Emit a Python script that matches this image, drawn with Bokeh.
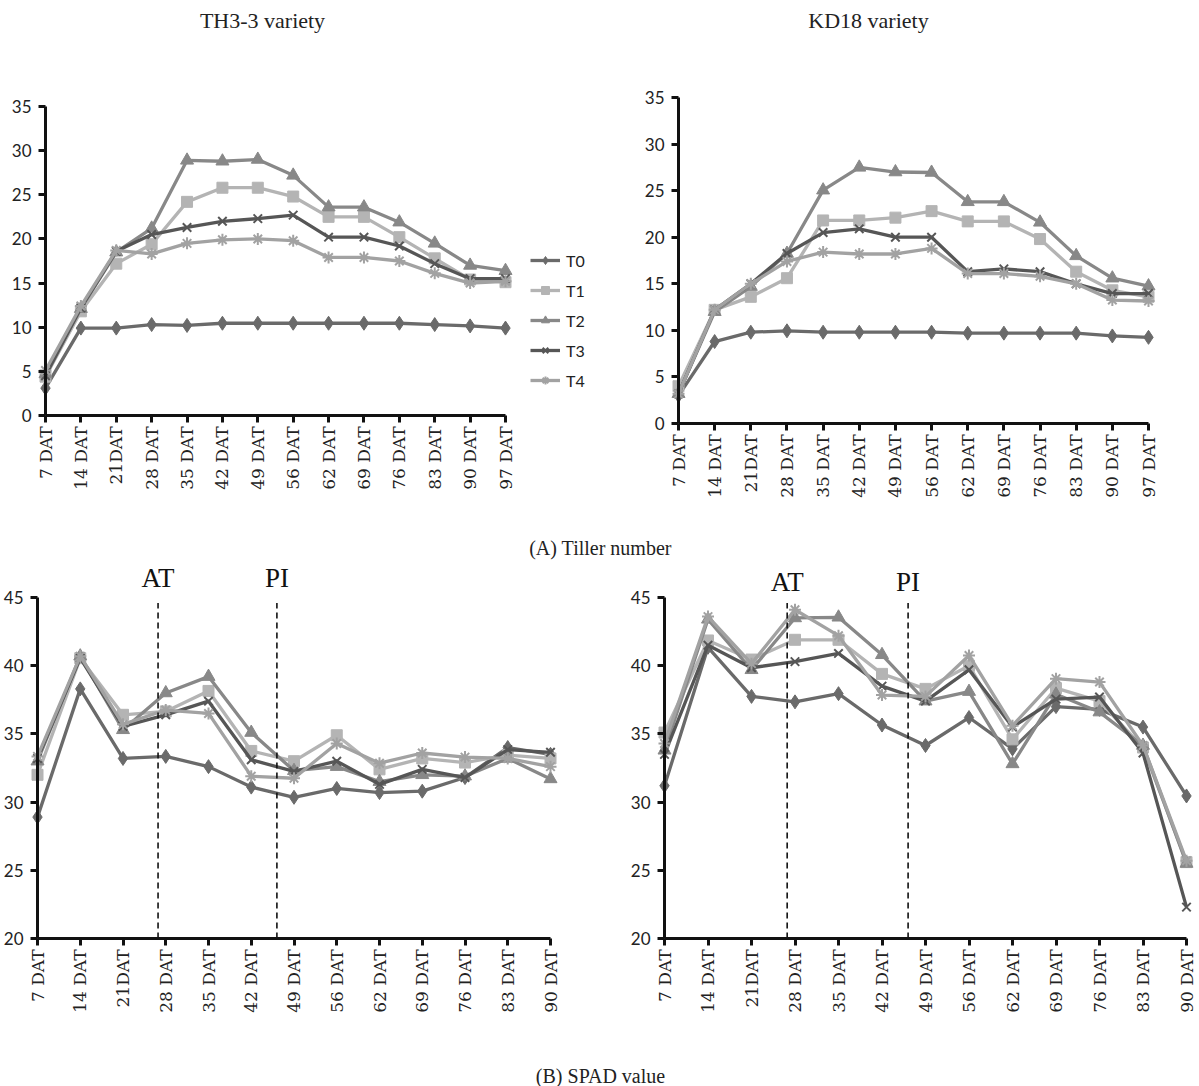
from bokeh.plotting import figure
from bokeh.models import Range1d, FixedTicker, Legend, LegendItem
from bokeh.layouts import column, row
from bokeh.embed import file_html
from bokeh.resources import INLINE
from bokeh.core.properties import value

# ---------------- data ----------------
cats_tiller = ["7 DAT", "14 DAT", "21DAT", "28 DAT", "35 DAT", "42 DAT", "49 DAT",
               "56 DAT", "62 DAT", "69 DAT", "76 DAT", "83 DAT", "90 DAT", "97 DAT"]
cats_spad = ["7 DAT", "14 DAT", "21DAT", "28 DAT", "35 DAT", "42 DAT", "49 DAT",
             "56 DAT", "62 DAT", "69 DAT", "76 DAT", "83 DAT", "90 DAT"]
series_names = ["T0", "T1", "T2", "T3", "T4"]

# (A) Tiller number, TH3-3
tl_T0 = [3.1, 9.9, 9.9, 10.3, 10.2, 10.45, 10.45, 10.45, 10.45, 10.45, 10.45, 10.3, 10.15, 9.9]
tl_T1 = [4.4, 11.8, 17.2, 19.4, 24.2, 25.8, 25.8, 24.8, 22.5, 22.5, 20.2, 17.8, 15.4, 15.1]
tl_T2 = [4.7, 12.1, 18.5, 21.2, 28.9, 28.8, 29.0, 27.2, 23.6, 23.6, 21.9, 19.5, 17.0, 16.4]
tl_T3 = [4.5, 12.2, 18.6, 20.5, 21.3, 22.0, 22.3, 22.7, 20.2, 20.2, 19.2, 17.2, 15.5, 15.5]
tl_T4 = [5.1, 12.4, 18.7, 18.3, 19.5, 19.9, 20.0, 19.8, 17.9, 17.9, 17.5, 16.1, 15.0, 15.2]

# (A) Tiller number, KD18
tr_T0 = [3.0, 8.8, 9.8, 9.95, 9.8, 9.8, 9.8, 9.8, 9.7, 9.7, 9.7, 9.7, 9.4, 9.25]
tr_T1 = [4.0, 12.2, 13.6, 15.6, 21.8, 21.8, 22.1, 22.8, 21.7, 21.7, 19.8, 16.3, 14.3, 13.6]
tr_T2 = [3.2, 12.0, 14.7, 18.25, 25.05, 27.5, 27.0, 26.95, 23.8, 23.8, 21.6, 18.0, 15.6, 14.75]
tr_T3 = [3.2, 12.2, 15.0, 18.25, 20.5, 20.9, 20.0, 20.0, 16.3, 16.6, 16.3, 15.0, 13.95, 13.95]
tr_T4 = [3.2, 12.2, 15.0, 17.4, 18.4, 18.2, 18.2, 18.8, 16.1, 16.1, 15.8, 15.0, 13.25, 13.15]

# (B) SPAD value, TH3-3
bl_T0 = [28.9, 38.3, 33.2, 33.35, 32.6, 31.1, 30.35, 31.0, 30.7, 30.8, 31.8, 34.0, 33.5]
bl_T1 = [32.0, 40.55, 36.4, 36.65, 38.15, 33.75, 33.0, 34.9, 32.4, 33.2, 32.9, 33.45, 33.2]
bl_T2 = [33.0, 40.7, 35.3, 38.0, 39.2, 35.1, 32.3, 32.6, 31.5, 32.0, 31.9, 33.2, 31.7]
bl_T3 = [33.2, 40.55, 35.55, 36.4, 37.4, 33.1, 32.25, 33.0, 31.3, 32.4, 31.8, 33.85, 33.65]
bl_T4 = [33.35, 40.7, 35.7, 36.75, 36.5, 31.9, 31.75, 34.3, 32.85, 33.6, 33.3, 33.2, 32.6]

# (B) SPAD value, KD18
br_T0 = [31.2, 41.35, 37.75, 37.35, 37.95, 35.65, 34.15, 36.2, 33.9, 37.0, 36.8, 35.5, 30.45]
br_T1 = [35.1, 41.85, 40.45, 41.9, 41.9, 39.4, 38.3, 40.0, 34.6, 38.35, 37.4, 34.0, 25.6]
br_T2 = [33.8, 43.4, 39.7, 43.5, 43.55, 40.8, 37.4, 38.1, 32.8, 37.9, 36.6, 34.15, 25.5]
br_T3 = [33.5, 41.5, 39.85, 40.3, 40.9, 38.5, 37.4, 39.7, 35.5, 37.55, 37.7, 33.6, 22.3]
br_T4 = [34.3, 43.6, 40.15, 44.1, 42.2, 37.85, 37.75, 40.75, 35.6, 39.05, 38.8, 34.15, 25.7]

tiller_ticks = [0, 5, 10, 15, 20, 25, 30, 35]
spad_ticks = [20, 25, 30, 35, 40, 45]
stage_names = ["AT", "PI"]
stage_pos = [2.82, 5.6]          # position between sampling dates (index units)

titles = ["TH3-3 variety", "KD18 variety"]
caption_a = "(A) Tiller number"
caption_b = "(B) SPAD value"

# ---------------- styles ----------------
STYLE = {
    "T0": dict(marker="diamond", color="#6a6a6a", size=14, lw=1),
    "T1": dict(marker="square", color="#b4b4b4", size=11, lw=1),
    "T2": dict(marker="triangle", color="#888888", size=13, lw=1),
    "T3": dict(marker="x", color="#565656", size=12, lw=2),
    "T4": dict(marker="asterisk", color="#a2a2a2", size=12, lw=2),
}
SERIF = "Liberation Serif"
TICKFONT = "Lato"
LABFONT = "DejaVu Serif"
W = 1199


def panel(cx0, cy0, cw, ch, x0, xN, ytop, ybot, ymin, ymax, yticks, cats, data):
    # frame covers the whole canvas; axes are pinned to data positions
    fl, fr, ft, fb = cx0, cx0 + cw, cy0, cy0 + ch
    n = len(cats)
    ux = (xN - x0) / (n - 1)
    uy = (ybot - ytop) / (ymax - ymin)
    xr = Range1d((fl - x0) / ux, (fr - x0) / ux)
    yr = Range1d(ymin - (fb - ybot) / uy, ymax + (ytop - ft) / uy)
    p = figure(width=cw, height=ch, x_range=xr, y_range=yr, min_border=0,
               toolbar_location=None, output_backend="svg")
    p.outline_line_color = None
    p.grid.visible = False

    xa = p.xaxis[0]
    ya = p.yaxis[0]
    xa.fixed_location = ymin
    ya.fixed_location = 0
    xa.bounds = (0, n - 1)
    ya.bounds = (ymin, ymax)
    xa.ticker = FixedTicker(ticks=list(range(n)))
    xa.major_label_overrides = {i: c for i, c in enumerate(cats)}
    ya.ticker = FixedTicker(ticks=yticks)
    for ax in (xa, ya):
        ax.axis_line_width = 3
        ax.axis_line_color = "#111111"
        ax.major_tick_line_width = 3
        ax.major_tick_line_color = "#111111"
        ax.major_tick_out = 7
        ax.major_tick_in = 0
        ax.minor_tick_out = 0
        ax.minor_tick_in = 0
        ax.major_label_text_color = "#222222"
    xa.major_label_orientation = 3.14159265 / 2
    xa.major_label_text_font = LABFONT
    xa.major_label_text_font_size = "17px"
    xa.major_label_standoff = 4
    ya.major_label_text_font = TICKFONT
    ya.major_label_text_font_size = "17px"
    ya.major_label_standoff = 7

    xs = list(range(n))
    rends = {}
    for name in series_names:
        st = STYLE[name]
        ln = p.line(xs, data[name], line_width=3.3, line_color=st["color"])
        sc = p.scatter(xs, data[name], marker=st["marker"], size=st["size"],
                       fill_color=st["color"], line_color=st["color"],
                       line_width=st["lw"])
        rends[name] = [ln, sc]
    return p, rends


def text_strip(height, xs_px, y_frac, texts, size):
    f = figure(width=W, height=height, x_range=Range1d(0, W), y_range=Range1d(0, 1),
               x_axis_type=None, y_axis_type=None, min_border=0,
               toolbar_location=None, output_backend="svg")
    f.outline_line_color = None
    f.text(x=xs_px, y=[y_frac] * len(texts), text=texts,
           text_font=value(SERIF), text_font_size=size, text_align="center",
           text_baseline="middle", text_color="#222222")
    return f


header = text_strip(44, [262, 868], 1 - 20 / 44, titles, "22px")

# top row
tl, tl_r = panel(0, 44, 620, 481, 45, 505, 106, 415, 0, 35, tiller_ticks, cats_tiller,
                 dict(T0=tl_T0, T1=tl_T1, T2=tl_T2, T3=tl_T3, T4=tl_T4))
items = [LegendItem(label=nm, renderers=tl_r[nm]) for nm in series_names]
leg = Legend(items=items, location=(530, 525 - 390), glyph_width=30,
             glyph_height=20, label_height=20, spacing=10, padding=0, margin=0,
             label_standoff=6, border_line_color=None, background_fill_alpha=0,
             label_text_font=TICKFONT, label_text_font_size="16px",
             label_text_color="#222222")
tl.add_layout(leg)

tr, _ = panel(620, 44, 579, 481, 678, 1148, 97, 423, 0, 35, tiller_ticks, cats_tiller,
              dict(T0=tr_T0, T1=tr_T1, T2=tr_T2, T3=tr_T3, T4=tr_T4))

cap_a = text_strip(35, [600], 1 - (547 - 525) / 35, [caption_a], "20px")

# bottom row
bl, _ = panel(0, 560, 600, 490, 37, 550, 597, 938, 20, 45, spad_ticks, cats_spad,
              dict(T0=bl_T0, T1=bl_T1, T2=bl_T2, T3=bl_T3, T4=bl_T4))
br, _ = panel(600, 560, 599, 490, 664, 1186, 597, 938, 20, 45, spad_ticks, cats_spad,
              dict(T0=br_T0, T1=br_T1, T2=br_T2, T3=br_T3, T4=br_T4))
for p, ylab in ((bl, 46.4), (br, 46.1)):
    p.segment(x0=stage_pos, y0=[20] * len(stage_pos), x1=stage_pos,
              y1=[44.6] * len(stage_pos), line_color="#111111", line_width=1.6,
              line_dash="6 4")
    p.text(x=stage_pos, y=[ylab] * len(stage_pos), text=stage_names,
           text_font=value(SERIF), text_font_size="27px", text_align="center",
           text_baseline="middle", text_color="#111111")

cap_b = text_strip(36, [600], 1 - (1075 - 1050) / 36, [caption_b], "20px")

layout = column(header, row(tl, tr), cap_a, row(bl, br), cap_b)
open("out.html", "w").write(file_html(layout, INLINE))
